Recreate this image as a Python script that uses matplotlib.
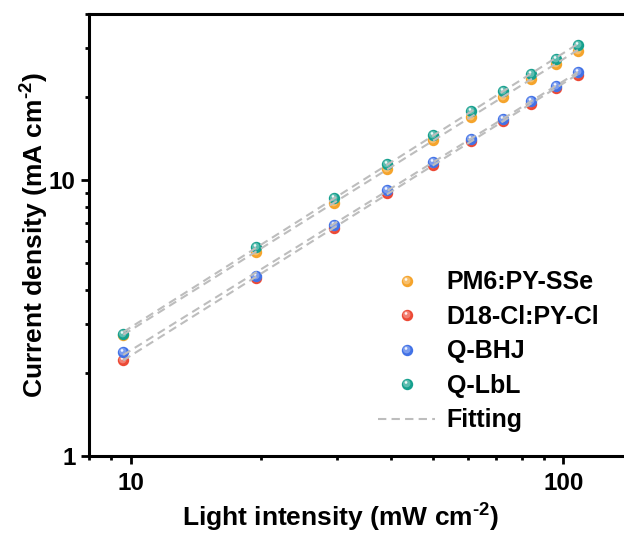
import numpy as np
import matplotlib
matplotlib.use("Agg")
import matplotlib.pyplot as plt
from matplotlib.path import Path
from matplotlib.lines import Line2D
from matplotlib.legend_handler import HandlerTuple
from matplotlib.ticker import LogLocator, NullFormatter, FixedLocator, FixedFormatter

plt.rcParams['font.family'] = ['Liberation Sans', 'DejaVu Sans']
plt.rcParams['font.weight'] = 'bold'
plt.rcParams['mathtext.fontset'] = 'custom'
plt.rcParams['mathtext.rm'] = 'Liberation Sans:bold'
plt.rcParams['mathtext.bf'] = 'Liberation Sans:bold'

# light intensity (mW cm-2)
intensity = [9.6, 19.5, 29.4, 39.1, 50.0, 61.0, 72.5, 84.0, 96.0, 108.0]

# current density (mA cm-2)
j_pm6 = [2.74, 5.51, 8.28, 10.98, 13.94, 16.92, 20.05, 23.28, 26.3, 29.45]
j_d18 = [2.22, 4.43, 6.70, 9.00, 11.39, 13.83, 16.33, 18.86, 21.5, 24.08]
j_bhj = [2.38, 4.48, 6.88, 9.18, 11.64, 14.15, 16.7, 19.4, 21.98, 24.66]
j_lbl = [2.77, 5.73, 8.63, 11.45, 14.63, 17.74, 20.95, 24.26, 27.5, 30.9]

names = ['PM6:PY-SSe', 'D18-Cl:PY-Cl', 'Q-BHJ', 'Q-LbL']
colors = ['#F5A42C', '#EC4A36', '#4272E6', '#16A08E']
series = [j_pm6, j_d18, j_bhj, j_lbl]


def circle_marker(cx, cy, r):
    # frame points keep the scale identical to the 'o' marker
    frame = Path([(-0.5, -0.5), (0.5, 0.5)], [Path.MOVETO, Path.MOVETO])
    return Path.make_compound_path(frame, Path.circle((cx, cy), r))


def lighten(c, f):
    rgb = np.array(matplotlib.colors.to_rgb(c))
    return tuple(rgb + (1 - rgb) * f)


mid_marker = circle_marker(-0.07, 0.08, 0.33)
hi_marker = circle_marker(-0.13, 0.18, 0.12)
ms = 8.2


def sphere(ax, x, y, c, z):
    kw = dict(ls='none', mew=0, ms=ms, zorder=z)
    h1, = ax.plot(x, y, marker='o', mfc=c, **kw)
    h2, = ax.plot(x, y, marker=mid_marker, mfc=lighten(c, 0.3), **kw)
    h3, = ax.plot(x, y, marker=hi_marker, mfc='white', alpha=0.9, **kw)
    return (h1, h2, h3)


fig = plt.figure(figsize=(6.24, 5.33), dpi=100)
ax = fig.add_axes([89 / 624, 1 - 456 / 533, 1 - 89 / 624, (456 - 14) / 533])
ax.set_xscale('log')
ax.set_yscale('log')
ax.set_xlim(8, 138)
ax.set_ylim(1, 40)

handles = []
for k, (name, c, j) in enumerate(zip(names, colors, series)):
    handles.append(sphere(ax, intensity, j, c, 3 + k))

xs = np.array(intensity)
for j in series:
    a, b = np.polyfit(np.log10(xs), np.log10(j), 1)
    ax.plot(xs, 10 ** (b + a * np.log10(xs)), color='#BDBDBD', lw=1.5,
            dashes=(4, 2.5), zorder=10)

fit_handle = Line2D([], [], color='#BDBDBD', lw=1.5, dashes=(4, 2.5))
leg = ax.legend(handles + [fit_handle], names + ['Fitting'],
                handler_map={tuple: HandlerTuple(ndivide=1, pad=0)},
                loc='upper left', bbox_to_anchor=(0.54, 0.42), frameon=False,
                fontsize=18, handlelength=2.3, handletextpad=0.45,
                labelspacing=0.42, borderpad=0, borderaxespad=0)

ax.xaxis.set_major_locator(FixedLocator([10, 100]))
ax.xaxis.set_major_formatter(FixedFormatter(['10', '100']))
ax.xaxis.set_minor_locator(LogLocator(base=10, subs=np.arange(2, 10)))
ax.xaxis.set_minor_formatter(NullFormatter())
ax.yaxis.set_major_locator(FixedLocator([1, 10]))
ax.yaxis.set_major_formatter(FixedFormatter(['1', '10']))
ax.yaxis.set_minor_locator(LogLocator(base=10, subs=np.arange(2, 10)))
ax.yaxis.set_minor_formatter(NullFormatter())

ax.tick_params(which='both', direction='out', width=2, top=False, right=False)
ax.tick_params(which='major', length=5.5, labelsize=17.5)
ax.tick_params(axis='x', which='major', pad=6)
ax.tick_params(axis='y', which='major', pad=4)
ax.tick_params(which='minor', length=3)

for s in ['left', 'bottom', 'top']:
    ax.spines[s].set_linewidth(2.2)
ax.spines['right'].set_visible(False)

ax.set_xlabel(r'Light intensity (mW cm$^{\text{-2}}$)', fontsize=19, fontweight='bold')
ax.set_ylabel(r'Current density (mA cm$^{\text{-2}}$)', fontsize=19, fontweight='bold')
ax.xaxis.set_label_coords(0.471, -0.10)
ax.yaxis.set_label_coords(-0.072, 0.5)

fig.savefig('out.png', dpi=100)
